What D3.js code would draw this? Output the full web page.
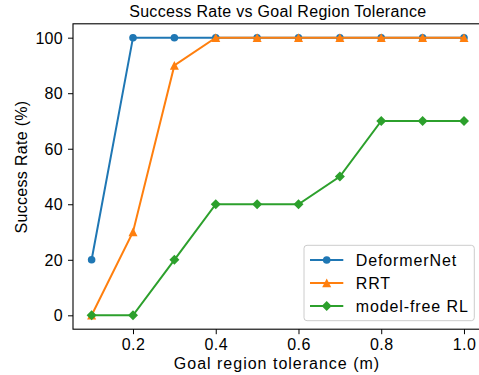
<!DOCTYPE html>
<html><head><meta charset="utf-8">
<script src="https://cdn.jsdelivr.net/npm/d3@7"></script>
<style>body{margin:0;background:#fff}svg{display:block}text{font-family:"Liberation Sans",Arial,sans-serif;fill:#000}</style>
</head><body><svg id="c" width="479" height="375"></svg>
<script>
const tolerance = [0.1,0.2,0.3,0.4,0.5,0.6,0.7,0.8,0.9,1.0];
const deformerNet = [20,100,100,100,100,100,100,100,100,100];
const rrt = [0,30,90,100,100,100,100,100,100,100];
const modelFreeRL = [0,0,20,40,40,40,50,70,70,70];
const xTicks = [0.2,0.4,0.6,0.8,1.0];
const yTicks = [0,20,40,60,80,100];
const seriesNames = ["DeformerNet","RRT","model-free RL"];
const colors = ["#1f77b4","#ff7f0e","#2ca02c"];

const L=73, R=482.6, T=23.8, B=329.2;
const svg = d3.select("#c");
const x = d3.scaleLinear().domain([0.055,1.045]).range([L,R]);
const y = d3.scaleLinear().domain([-5,105]).range([B,T]);

const FF = "Liberation Sans, Arial, sans-serif";
svg.append("g").attr("transform",`translate(0,${B})`)
  .call(d3.axisBottom(x).tickValues(xTicks).tickFormat(d3.format(".1f")).tickSize(5).tickPadding(4))
  .call(g=>{g.select(".domain").remove();g.selectAll("text").attr("font-size",16).attr("font-family",FF).attr("letter-spacing",0.4);g.selectAll("line").attr("stroke","#000").attr("stroke-width",1);});
svg.append("g").attr("transform",`translate(${L},0)`)
  .call(d3.axisLeft(y).tickValues(yTicks).tickSize(5).tickPadding(5))
  .call(g=>{g.select(".domain").remove();g.selectAll("text").attr("font-size",16).attr("font-family",FF).attr("letter-spacing",0.3).attr("dy","0.35em");g.selectAll("line").attr("stroke","#000").attr("stroke-width",1);});

// marker shapes (matplotlib-like)
const markerPaths = [
  "M3.8,0A3.8,3.8,0,1,1,-3.8,0A3.8,3.8,0,1,1,3.8,0Z",
  "M0,-4.5L4.5,4.2L-4.5,4.2Z",
  "M0,-5L5,0L0,5L-5,0Z"
];
const data = [deformerNet, rrt, modelFreeRL];
const line = d3.line().x((d,i)=>x(tolerance[i])).y(d=>y(d));
data.forEach((s,k)=>{
  svg.append("path").datum(s).attr("d",line).attr("fill","none").attr("stroke",colors[k]).attr("stroke-width",2);
  svg.append("g").selectAll("path").data(s).join("path")
    .attr("transform",(d,i)=>`translate(${x(tolerance[i])},${y(d)})`)
    .attr("d",markerPaths[k]).attr("fill",colors[k]);
});

svg.append("rect").attr("x",L).attr("y",T).attr("width",R-L).attr("height",B-T)
  .attr("fill","none").attr("stroke","#000").attr("stroke-width",1.1);

svg.append("text").attr("x",(L+R)/2).attr("y",17).attr("text-anchor","middle").attr("font-size",16).attr("letter-spacing",0.3).text("Success Rate vs Goal Region Tolerance");
svg.append("text").attr("x",277).attr("y",369).attr("text-anchor","middle").attr("font-size",16).attr("letter-spacing",1.0).text("Goal region tolerance (m)");
svg.append("text").attr("transform",`translate(26.5,167) rotate(-90)`).attr("text-anchor","middle").attr("font-size",16).attr("letter-spacing",0.3).text("Success Rate (%)");

const lg = svg.append("g");
lg.append("rect").attr("x",304).attr("y",245.3).attr("width",170.3).attr("height",75.4).attr("rx",3)
  .attr("fill","#fff").attr("fill-opacity",0.8).attr("stroke","#ccc").attr("stroke-width",1);
seriesNames.forEach((n,k)=>{
  const yy = 260 + k*23;
  lg.append("line").attr("x1",310).attr("x2",343.3).attr("y1",yy).attr("y2",yy).attr("stroke",colors[k]).attr("stroke-width",2);
  lg.append("path").attr("transform",`translate(326.7,${yy})`).attr("d",markerPaths[k]).attr("fill",colors[k]);
  lg.append("text").attr("x",355.7).attr("y",yy+6).attr("font-size",16).attr("letter-spacing",0.9).text(n);
});
</script></body></html>
